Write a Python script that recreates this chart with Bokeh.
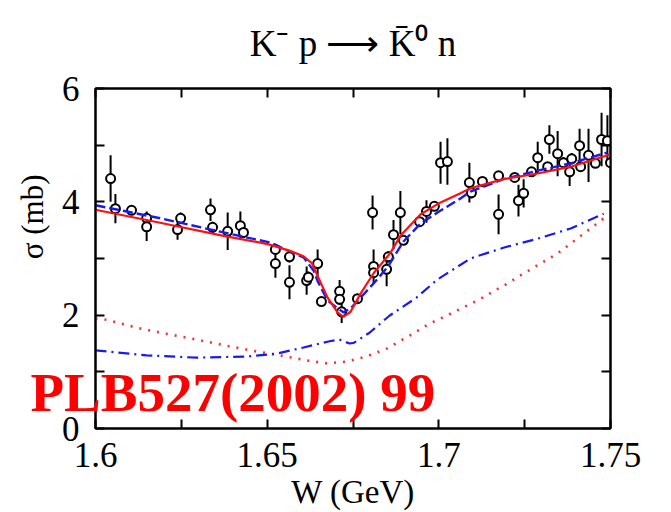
from bokeh.plotting import figure
from bokeh.models import Range1d, FixedTicker, LinearAxis, Title
from bokeh.embed import file_html
from bokeh.resources import INLINE

# ---- data ----
x_pts = [1.6044, 1.6058, 1.6105, 1.6149, 1.6149, 1.6239, 1.6248, 1.6335, 1.6341, 1.6385,
         1.6422, 1.6431, 1.6524, 1.6524, 1.6565, 1.6565, 1.6615, 1.6620, 1.6647, 1.6658,
         1.6711, 1.6711, 1.6717, 1.6763, 1.6807, 1.6810, 1.6810, 1.6848, 1.6853, 1.6868,
         1.6888, 1.6897, 1.6944, 1.6964, 1.6987, 1.7005, 1.7025, 1.7089, 1.7095, 1.7127,
         1.7174, 1.7174, 1.7221, 1.7232, 1.7247, 1.7270, 1.7288, 1.7317, 1.7322, 1.7346,
         1.7363, 1.7381, 1.7387, 1.7410, 1.7413, 1.7436, 1.7456, 1.7474, 1.7491, 1.7500]
y_pts = [4.41, 3.88, 3.85, 3.71, 3.56, 3.51, 3.71, 3.86, 3.55, 3.48,
         3.58, 3.46, 3.16, 2.91, 3.03, 2.58, 2.61, 2.67, 2.91, 2.24,
         2.42, 2.28, 2.06, 2.29, 3.81, 2.86, 2.75, 2.81, 3.03, 3.42,
         3.81, 3.32, 3.65, 3.83, 3.92, 4.69, 4.71, 4.34, 4.16, 4.36,
         4.46, 3.78, 4.43, 4.02, 4.15, 4.53, 4.78, 4.62, 5.10, 4.85,
         4.69, 4.53, 4.76, 4.99, 4.62, 4.82, 4.68, 5.10, 5.08, 4.69]
y_err = [0.41, 0.26, 0.06, 0.12, 0.25, 0.18, 0.10, 0.20, 0.10, 0.33,
         0.25, 0.10, 0.10, 0.25, 0.10, 0.30, 0.25, 0.10, 0.25, 0.05,
         0.20, 0.10, 0.20, 0.05, 0.30, 0.30, 0.10, 0.30, 0.10, 0.26,
         0.38, 0.05, 0.05, 0.20, 0.05, 0.37, 0.41, 0.35, 0.10, 0.05,
         0.05, 0.35, 0.05, 0.28, 0.25, 0.05, 0.28, 0.05, 0.25, 0.40,
         0.10, 0.25, 0.10, 0.30, 0.05, 0.47, 0.05, 0.47, 0.45, 0.05]

full_x = [1.6, 1.6181, 1.6373, 1.6481, 1.6510, 1.6568, 1.6606, 1.6630, 1.6650, 1.6676,
          1.6705, 1.6722, 1.6743, 1.6772, 1.6810, 1.6859, 1.6888, 1.6947, 1.7005, 1.7063,
          1.7092, 1.7188, 1.7288, 1.7384, 1.7480, 1.75]
full_y = [3.86, 3.64, 3.40, 3.28, 3.24, 3.13, 3.04, 2.92, 2.65, 2.31,
          2.05, 1.97, 2.06, 2.38, 2.74, 3.10, 3.40, 3.78, 3.99, 4.15,
          4.24, 4.40, 4.50, 4.62, 4.80, 4.84]

dash_x = [1.6, 1.6181, 1.6373, 1.6510, 1.6568, 1.6606, 1.6635, 1.6647, 1.6676, 1.6705,
          1.6722, 1.6743, 1.6772, 1.6810, 1.6851, 1.6897, 1.6947, 1.6996, 1.7063, 1.7092,
          1.7188, 1.7288, 1.7384, 1.7491]
dash_y = [3.94, 3.72, 3.46, 3.28, 3.12, 3.02, 2.79, 2.60, 2.26, 2.12,
          2.05, 2.12, 2.31, 2.56, 2.85, 3.30, 3.62, 3.81, 4.06, 4.18,
          4.40, 4.55, 4.68, 4.87]

dashdot_x = [1.6, 1.6149, 1.6294, 1.6440, 1.6527, 1.6606, 1.6682, 1.6710, 1.6740, 1.6752,
             1.6798, 1.6856, 1.6935, 1.6996, 1.7092, 1.7188, 1.7288, 1.7384, 1.7480]
dashdot_y = [1.38, 1.29, 1.25, 1.27, 1.32, 1.43, 1.54, 1.57, 1.50, 1.51,
             1.69, 1.99, 2.31, 2.63, 3.00, 3.19, 3.35, 3.53, 3.79]

dot_x = [1.6, 1.6032, 1.6119, 1.6207, 1.6294, 1.6382, 1.6469, 1.6556, 1.6615, 1.6673,
         1.6731, 1.6789, 1.6848, 1.6915, 1.6973, 1.7022, 1.7072, 1.7119, 1.7168, 1.7206,
         1.7229, 1.7346, 1.7442, 1.7491]
dot_y = [1.94, 1.92, 1.78, 1.67, 1.57, 1.46, 1.36, 1.27, 1.20, 1.15,
         1.18, 1.27, 1.41, 1.64, 1.85, 1.99, 2.14, 2.28, 2.45, 2.58,
         2.67, 3.09, 3.53, 3.76]

x_major = [1.6, 1.65, 1.7, 1.75]
x_labels = ["1.6", "1.65", "1.7", "1.75"]
x_minor = [1.625, 1.675, 1.725]
y_major = [0, 2, 4, 6]
y_labels = ["0", "2", "4", "6"]
y_minor = [1, 3, 5]

title_text = "K\u207b p \u27f6 K\u0304\u2070 n"
x_title = "W (GeV)"
y_title = "\u03c3 (mb)"
ref_text = "PLB527(2002) 99"

SERIF = "Liberation Serif"

p = figure(width=671, height=512, output_backend="svg", toolbar_location=None,
           x_range=Range1d(1.6, 1.75), y_range=Range1d(0, 6),
           min_border_left=95, min_border_right=61, min_border_top=88, min_border_bottom=84)
p.title.visible = False
p.grid.visible = False
p.outline_line_color = "black"
p.outline_line_width = 2
p.background_fill_color = "white"
p.border_fill_color = "white"

# extra axes for ticks on the top and right (ticks only, no labels)
p.add_layout(LinearAxis(ticker=FixedTicker(ticks=[], minor_ticks=sorted(x_major + x_minor))),
             "above")
p.add_layout(LinearAxis(ticker=FixedTicker(ticks=[], minor_ticks=sorted(y_major + y_minor))),
             "right")

p.below[0].ticker = FixedTicker(ticks=x_major, minor_ticks=x_minor)
p.left[0].ticker = FixedTicker(ticks=y_major, minor_ticks=y_minor)

for ax in p.axis:
    ax.major_tick_in = 9
    ax.major_tick_out = 0
    ax.minor_tick_in = 9
    ax.minor_tick_out = 0
    ax.major_tick_line_width = 2
    ax.minor_tick_line_width = 2
    ax.axis_line_width = 2
    ax.major_tick_line_color = "black"
    ax.minor_tick_line_color = "black"
    ax.axis_line_color = "black"
    ax.major_label_text_font = SERIF
    ax.major_label_text_font_size = "35px"
    ax.major_label_text_color = "black"
    ax.axis_label_text_font = SERIF
    ax.axis_label_text_font_style = "normal"
    ax.axis_label_text_color = "black"

bx = p.below[0]
bx.major_label_overrides = dict(zip(x_major, x_labels))
bx.major_label_standoff = 14
bx.axis_label = x_title
bx.axis_label_text_font_size = "33px"
bx.axis_label_standoff = 4

lx = p.left[0]
lx.major_label_overrides = dict(zip(y_major, y_labels))
lx.major_label_standoff = 16

ax_top = p.above[0]
ax_top.major_label_standoff = 0
ax_top.axis_label = title_text
ax_top.axis_label_text_font_size = "37px"
ax_top.axis_label_standoff = 25

p.right[0].major_label_standoff = 0

# y axis title, shifted up along the axis like the reference
p.add_layout(Title(text=y_title, align="right", offset=86, vertical_align="middle",
                   standoff=16, text_font=SERIF, text_font_size="31px",
                   text_font_style="normal", text_color="black"), "left")

# red reference stamp, lifted into the plot area
p.add_layout(Title(text=ref_text, align="left", offset=-65, vertical_align="top",
                   standoff=-302, text_font=SERIF, text_font_size="55px",
                   text_font_style="bold", text_color="#ff0000"), "below")

# model curves
p.line(dot_x, dot_y, line_color="#ee3333", line_width=2.6, line_dash="2 7")
p.line(dashdot_x, dashdot_y, line_color="#1a1aee", line_width=2.2, line_dash="11 5 2 5")

# data with error bars
lo = [y - e for y, e in zip(y_pts, y_err)]
hi = [y + e for y, e in zip(y_pts, y_err)]
p.segment(x0=x_pts, y0=lo, x1=x_pts, y1=hi, line_color="black", line_width=2)
p.scatter(x_pts, y_pts, marker="circle", size=9, line_color="black", line_width=2,
          fill_color="white")

p.line(dash_x, dash_y, line_color="#1a1aee", line_width=2.4, line_dash="10 4")
p.line(full_x, full_y, line_color="#ff1010", line_width=2.2)

open("out.html", "w").write(file_html(p, INLINE))
